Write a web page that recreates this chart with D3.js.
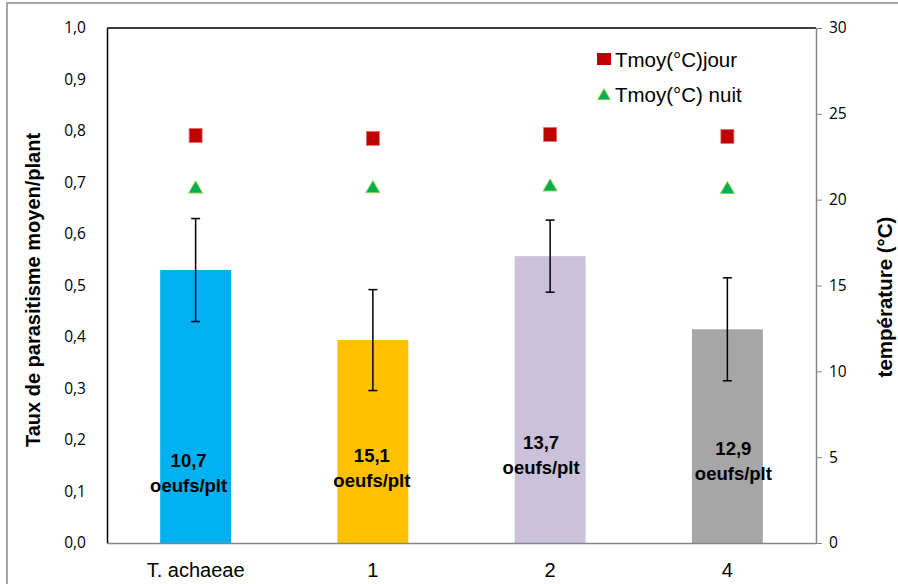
<!DOCTYPE html>
<html>
<head>
<meta charset="utf-8">
<script src="https://cdn.jsdelivr.net/npm/d3@7"></script>
<style>
  body { margin: 0; background: #fff; }
  svg { display: block; font-family: "Liberation Sans", Arial, sans-serif; }
</style>
</head>
<body>
<div id="chart"></div>
<script>
// data
const categories = ["T. achaeae", "1", "2", "4"];
const taux = [0.530, 0.394, 0.557, 0.415];
const tauxErr = [0.100, 0.098, 0.070, 0.100];
const barColors = ["#00B0F0", "#FFC000", "#CCC1DA", "#A6A6A6"];
const oeufs = ["10,7", "15,1", "13,7", "12,9"];
const tJour = [23.77, 23.6, 23.83, 23.71];
const tNuit = [20.68, 20.7, 20.8, 20.65];
const leftTicks = [0, 0.1, 0.2, 0.3, 0.4, 0.5, 0.6, 0.7, 0.8, 0.9, 1.0];
const rightTicks = [0, 5, 10, 15, 20, 25, 30];

// baseline + x shift of the egg count labels, they are not all at same place
const labelY = [467, 462, 449, 455];
const labelDx = [-7, -1, -9, 6];

const width = 898;
const height = 584;
const margin = { top: 28, bottom: 41, left: 107, right: 82 };

const svg = d3.select("#chart")
  .append("svg")
  .attr("width", width)
  .attr("height", height);

// outer frame
svg.append("rect")
  .attr("x", 7).attr("y", 3)
  .attr("width", width + 10).attr("height", height + 10)
  .attr("fill", "none")
  .attr("stroke", "#a6a6a6")
  .attr("stroke-width", 2);

const x = d3.scaleBand()
  .domain(categories)
  .range([margin.left, width - margin.right])
  .paddingInner(0.6)
  .paddingOuter(0.3);

const y = d3.scaleLinear()
  .domain([0, 1])
  .range([height - margin.bottom, margin.top]);

const y2 = d3.scaleLinear()
  .domain([0, 30])
  .range([height - margin.bottom, margin.top]);

// top line of plot area
svg.append("line")
  .attr("x1", margin.left).attr("x2", width - margin.right)
  .attr("y1", margin.top).attr("y2", margin.top)
  .attr("stroke", "#000").attr("stroke-width", 1.5);

// bars
svg.append("g")
  .selectAll("rect")
  .data(taux)
  .join("rect")
    .attr("x", (d, i) => x(categories[i]))
    .attr("y", d => y(d))
    .attr("width", x.bandwidth())
    .attr("height", d => y(0) - y(d))
    .attr("fill", (d, i) => barColors[i]);

// error bars
const err = svg.append("g").attr("stroke", "#000").attr("stroke-width", 1.5);
taux.forEach((d, i) => {
  const cx = x(categories[i]) + x.bandwidth() / 2;
  err.append("line")
    .attr("x1", cx).attr("x2", cx)
    .attr("y1", y(d + tauxErr[i])).attr("y2", y(d - tauxErr[i]));
  [d + tauxErr[i], d - tauxErr[i]].forEach(v => {
    err.append("line")
      .attr("x1", cx - 4.5).attr("x2", cx + 4.5)
      .attr("y1", y(v)).attr("y2", y(v));
  });
});

// egg labels
const lab = svg.append("g")
  .attr("font-weight", "bold")
  .attr("font-size", "18.5px")
  .attr("text-anchor", "middle")
  .attr("fill", "#000");
oeufs.forEach((t, i) => {
  const cx = x(categories[i]) + x.bandwidth() / 2 + labelDx[i];
  lab.append("text").attr("x", cx).attr("y", labelY[i]).text(t);
  lab.append("text").attr("x", cx).attr("y", labelY[i] + 25).text("oeufs/plt");
});

// temperature markers
const sq = 13;
svg.append("g")
  .selectAll("rect")
  .data(tJour)
  .join("rect")
    .attr("x", (d, i) => x(categories[i]) + x.bandwidth() / 2 - sq / 2)
    .attr("y", d => y2(d) - sq / 2)
    .attr("width", sq).attr("height", sq + 1)
    .attr("fill", "#C00000")
    .attr("stroke", "#e07070").attr("stroke-width", 0.8);

const tri = d3.symbol().type(d3.symbolTriangle).size(85);
svg.append("g")
  .selectAll("path")
  .data(tNuit)
  .join("path")
    .attr("d", tri)
    .attr("transform", (d, i) => `translate(${x(categories[i]) + x.bandwidth() / 2},${y2(d) + 1})`)
    .attr("fill", "#00B050")
    .attr("stroke", "#92D050").attr("stroke-width", 1);

// axes
svg.append("g")
  .attr("transform", `translate(${margin.left},0)`)
  .call(d3.axisLeft(y).tickValues(leftTicks).tickSize(0).tickPadding(21)
    .tickFormat(d => d3.format(".1f")(d).replace(".", ",")))
  .call(g => g.select(".domain").attr("stroke", "#000").attr("stroke-width", 1.5))
  .call(g => g.selectAll("text").attr("font-family", "'Open Sans', sans-serif").attr("font-size", "15.5px").attr("fill", "#000"));

svg.append("g")
  .attr("transform", `translate(${width - margin.right},0)`)
  .call(d3.axisRight(y2).tickValues(rightTicks).tickSize(6).tickSizeOuter(0).tickPadding(7))
  .call(g => g.select(".domain").attr("stroke", "#868686").attr("stroke-width", 1.5))
  .call(g => g.selectAll(".tick line").attr("stroke", "#868686"))
  .call(g => g.selectAll("text").attr("font-family", "'Open Sans', sans-serif").attr("font-size", "15.5px").attr("fill", "#000"));

svg.append("g")
  .attr("transform", `translate(0,${height - margin.bottom})`)
  .call(d3.axisBottom(x).tickSize(0).tickPadding(20))
  .call(g => g.select(".domain").attr("stroke", "#868686").attr("stroke-width", 1.5))
  .call(g => g.selectAll("text").attr("font-size", "20px").attr("fill", "#000"));

// axis titles
svg.append("text")
  .attr("transform", "translate(40,290) rotate(-90)")
  .attr("text-anchor", "middle")
  .attr("font-weight", "bold")
  .attr("font-size", "20px")
  .text("Taux de parasitisme moyen/plant");

svg.append("text")
  .attr("transform", "translate(892,297) rotate(-90)")
  .attr("text-anchor", "middle")
  .attr("font-weight", "bold")
  .attr("font-size", "20.5px")
  .text("température (°C)");

// legend
const legend = svg.append("g").attr("font-size", "20.5px");
legend.append("rect")
  .attr("x", 597).attr("y", 53).attr("width", 14).attr("height", 12)
  .attr("fill", "#C00000");
legend.append("text").attr("x", 615).attr("y", 67).text("Tmoy(°C)jour");
legend.append("path")
  .attr("d", d3.symbol().type(d3.symbolTriangle).size(70))
  .attr("transform", "translate(604,96)")
  .attr("fill", "#00B050").attr("stroke", "#92D050");
legend.append("text").attr("x", 615).attr("y", 102).text("Tmoy(°C) nuit");
</script>
</body>
</html>
